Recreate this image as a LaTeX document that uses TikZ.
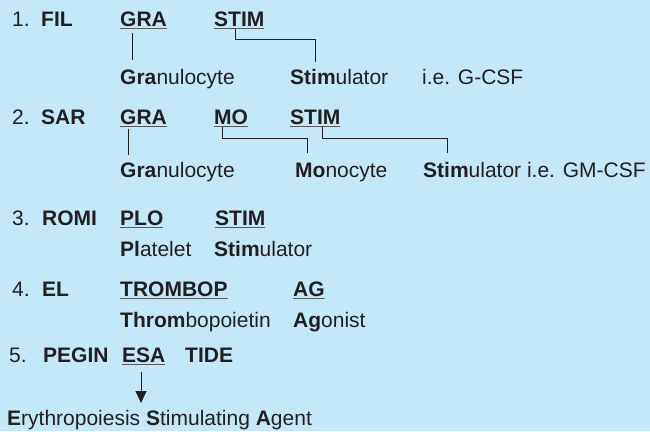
\documentclass[tikz,border=0pt]{standalone}
\usepackage{fontspec}
\setmainfont{Liberation Sans}
\usepackage{xcolor}
\usetikzlibrary{arrows.meta}
\definecolor{bgblue}{HTML}{C5E8F8}
\definecolor{ink}{HTML}{231F20}
\definecolor{ulgray}{HTML}{58595B}
\newcommand{\wordsize}{\fontsize{21}{25}\selectfont}
\tikzset{
  word/.style={inner sep=0pt,anchor=base west,text depth=0pt,text=ink,font=\wordsize},
  drug/.style={word,font=\wordsize\bfseries},
  abbr/.style={drug,text depth=4pt,
    path picture={\draw[ulgray,line width=1.4pt]
      ([yshift=1.5pt]path picture bounding box.south west) --
      ([yshift=1.5pt]path picture bounding box.south east);}},
  link/.style={ink,line width=0.9pt}
}
\begin{document}
\begin{tikzpicture}[x=1pt,y=1pt,>=Latex]
\fill[bgblue] (0,0) rectangle (650,-431);
\useasboundingbox (0,0) rectangle (650,-431);
% 1. filgrastim
\node[word] (num1) at (12,-26) {1.};
\node[drug] (fil) at (41,-26) {FIL};
\node[abbr] (gra1) at (120,-26) {GRA};
\node[abbr] (stim1) at (214,-26) {STIM};
\node[word] (gran1) at (120,-84) {\textbf{Gra}nulocyte};
\node[word] (stimr1) at (290,-84) {\textbf{Stim}ulator};
\node[word] (ie1) at (422,-84) {i.e. G-CSF};
\draw[link] ([xshift=12pt,yshift=-7pt]gra1.base west) -- ([xshift=12pt,yshift=24pt]gran1.base west);
\draw[link] ([xshift=21pt,yshift=-3pt]stim1.base west) -- ++(0,-10) -| ([xshift=25pt,yshift=22pt]stimr1.base west);
% 2. sargramostim
\node[word] (num2) at (12,-124) {2.};
\node[drug] (sar) at (41,-124) {SAR};
\node[abbr] (gra2) at (120,-124) {GRA};
\node[abbr] (mo2) at (214,-124) {MO};
\node[abbr] (stim2) at (290,-124) {STIM};
\node[word] (gran2) at (120,-177) {\textbf{Gra}nulocyte};
\node[word] (mono2) at (295,-177) {\textbf{Mo}nocyte};
\node[word] (stimr2) at (423,-177) {\textbf{Stim}ulator i.e. GM-CSF};
\draw[link] ([xshift=8pt,yshift=-5pt]gra2.base west) -- ([xshift=8pt,yshift=22pt]gran2.base west);
\draw[link] ([xshift=8pt,yshift=-3pt]mo2.base west) -- ++(0,-11) -| ([xshift=12pt,yshift=24pt]mono2.base west);
\draw[link] ([xshift=32pt,yshift=-3pt]stim2.base west) -- ++(0,-11) -| ([xshift=24pt,yshift=24pt]stimr2.base west);
% 3. romiplostim
\node[word] (num3) at (12,-225) {3.};
\node[drug] (romi) at (42,-225) {ROMI};
\node[abbr] (plo3) at (120,-225) {PLO};
\node[abbr] (stim3) at (215,-225) {STIM};
\node[word] (plat3) at (120,-256) {\textbf{Pl}atelet};
\node[word] (stimr3) at (214,-256) {\textbf{Stim}ulator};
% 4. eltrombopag
\node[word] (num4) at (12,-296) {4.};
\node[drug] (el) at (42,-296) {EL};
\node[abbr] (trom4) at (120,-296) {TROMBOP};
\node[abbr] (ag4) at (293,-296) {AG};
\node[word] (thromb4) at (120,-327) {\textbf{Throm}bopoietin};
\node[word] (agon4) at (293,-327) {\textbf{Ag}onist};
% 5. peginesatide
\node[word] (num5) at (9,-362) {5.};
\node[drug] (pegin) at (43,-362) {PEGIN};
\node[abbr] (esa5) at (122,-362) {ESA};
\node[drug] (tide) at (185,-362) {TIDE};
\node[word] (erythro) at (7,-425) {\textbf{E}rythropoiesis \textbf{S}timulating \textbf{A}gent};
\draw[link,-{Triangle[length=12pt,width=11pt]}] ([xshift=19pt,yshift=-10pt]esa5.base west) -- ([xshift=134pt,yshift=22pt]erythro.base west);
\end{tikzpicture}
\end{document}
